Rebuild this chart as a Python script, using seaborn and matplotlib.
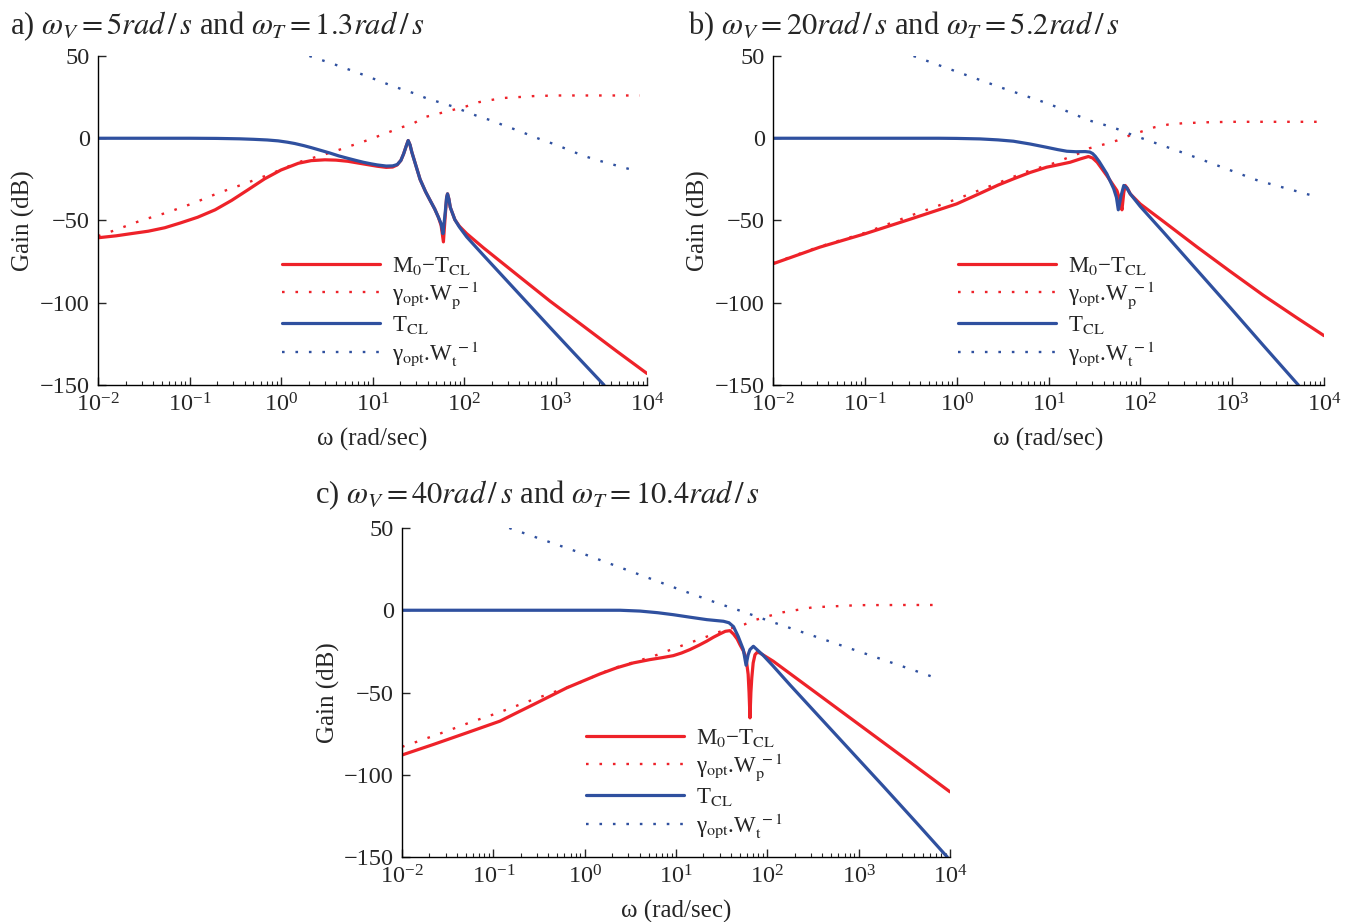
import numpy as np
import matplotlib
matplotlib.use('Agg')
import matplotlib.pyplot as plt
import seaborn as sns
from matplotlib.lines import Line2D
from matplotlib.ticker import LogLocator, NullFormatter, FixedLocator

# ---- data (log10 of omega in rad/s, gain in dB) ----
# panel a
a_m0t_logw = [-2, -1.8, -1.64, -1.45, -1.27, -1.1, -0.91, -0.72, -0.54, -0.36, -0.18, 0.0, 0.19, 0.33, 0.48,
              0.6, 0.73, 0.9, 1.05, 1.15, 1.22, 1.27, 1.31, 1.34, 1.37, 1.39, 1.41, 1.43, 1.46, 1.52, 1.58,
              1.63, 1.68, 1.72, 1.75, 1.775, 1.795, 1.81, 1.82, 1.835, 1.85, 1.9, 1.95, 2.03, 2.21, 2.58,
              2.94, 3.3, 3.67, 4.0]
a_m0t_db = [-60.5, -59.3, -58, -56.5, -54.4, -51.5, -48, -43.5, -37.8, -31.3, -24.7, -19.3, -15.2, -13.6, -13.1,
            -13.3, -14, -15.6, -17, -17.7, -17.5, -16.2, -13.5, -9.5, -4.5, -1.4, -4, -8.5, -14, -25, -32.5,
            -37.8, -43, -48, -53, -63, -47, -36, -33.8, -37, -42, -49.5, -53.5, -58, -66.5, -83,
            -99, -114, -129.5, -143]
a_wp_logw = [-2, -1.82, -1.53, -1.235, -0.96, -0.69, -0.40, -0.11, 0.19, 0.59, 0.74, 0.885, 1.03, 1.16, 1.30,
             1.45, 1.567, 1.85, 2.02, 2.16, 2.30, 2.44, 2.59, 2.75, 3.0, 3.5, 3.92]
a_wp_db = [-59.5, -56, -50, -45, -39.5, -33.4, -27.7, -21.6, -14.6, -7.9, -5, -2.4, 0.6, 3.3, 6.3,
           9.1, 12.8, 16.8, 19.3, 21.9, 23.3, 24.5, 25, 25.6, 26, 26, 26]
a_tcl_logw = [-2, -1.0, -0.7, -0.45, -0.3, -0.15, -0.03, 0.07, 0.15, 0.25, 0.33, 0.43, 0.535, 0.63, 0.73, 0.82,
              0.9, 0.98, 1.05, 1.15, 1.22, 1.27, 1.31, 1.34, 1.37, 1.39, 1.41, 1.43, 1.46, 1.52, 1.58, 1.63,
              1.68, 1.72, 1.75, 1.77, 1.795, 1.81, 1.82, 1.835, 1.85, 1.9, 1.95, 2.03, 2.21, 2.575, 2.94,
              3.2, 3.53]
a_tcl_db = [0, 0, -0.1, -0.35, -0.65, -1.05, -1.6, -2.4, -3.2, -4.5, -5.7, -7.3, -9, -10.7, -12.2, -13.5,
            -14.6, -15.5, -16.2, -16.9, -16.8, -16, -13.5, -9.5, -4.5, -1.4, -4, -8.5, -14, -25, -32.5, -37.8,
            -43, -48, -52, -58, -45, -36, -33.8, -37, -42, -49.5, -54, -60, -71, -93, -115,
            -130.5, -150]
a_wt_logw = [0.31, 0.57, 0.855, 1.02, 1.16, 1.31, 1.45, 1.59, 1.73, 1.88, 2.02, 2.16, 2.30, 2.44, 2.59, 2.73,
             2.87, 3.01, 3.16, 3.30, 3.44, 3.58, 3.73, 3.87]
a_wt_db = [50, 45.2, 39.5, 36, 33, 30, 27.4, 24.3, 21.9, 19.3, 16.2, 13.2, 10.8, 7.7, 4.7, 1.6,
           -1.4, -4, -7.5, -10.5, -13.1, -15.2, -17.6, -19.6]

# panel b
b_m0t_logw = [-2, -1.49, -1.0, -0.495, 0.0, 0.255, 0.45, 0.618, 0.8, 0.98, 1.1, 1.235, 1.35, 1.435, 1.48,
              1.53, 1.635, 1.745, 1.78, 1.80, 1.82, 1.835, 1.86, 1.89, 2.0, 2.25, 2.615, 2.98, 3.34, 3.70, 4.0]
b_m0t_db = [-76.3, -66.2, -58.1, -49, -39.9, -33.5, -28.5, -24.7, -20.8, -17.6, -16.2, -14.6, -12.5, -11.1, -12,
            -14.6, -22.7, -31.8, -38, -43.5, -33, -28.7, -30.5, -33.8, -40, -50.5, -66, -81, -95.5, -109, -120]
b_wp_logw = [-2, -1.5, -1.0, -0.5, 0.0, 0.33, 0.473, 0.75, 1.036, 1.18, 1.32, 1.45, 1.6, 1.745, 1.88, 2.155,
             2.3, 2.46, 2.72, 3.0, 3.5, 3.92]
b_wp_db = [-76, -66, -57.5, -47, -37, -29.8, -26.7, -20.5, -15.6, -12.5, -9.5, -6, -3.8, -1.4, 1.6, 6.7,
           8.3, 9.1, 9.7, 10, 10, 10]
b_tcl_logw = [-2, -0.2, 0.0, 0.255, 0.45, 0.618, 0.8, 0.98, 1.1, 1.2, 1.3, 1.4, 1.45, 1.48, 1.51, 1.55, 1.635,
              1.71, 1.74, 1.76, 1.79, 1.82, 1.85, 1.89, 2.0, 2.25, 2.615, 2.98, 3.34, 3.72]
b_tcl_db = [0, 0, -0.1, -0.4, -1, -1.8, -3.5, -5.5, -6.9, -7.9, -8.2, -8.1, -8.4, -9.3, -11, -14, -21.6,
            -30.7, -36, -43.5, -35, -28.7, -30, -33.8, -41.5, -57, -80, -103, -126, -150]
b_wt_logw = [-0.47, 0.0, 0.5, 1.0, 1.45, 1.6, 1.745, 1.88, 2.5, 3.28, 3.87]
b_wt_db = [50, 40.5, 30.5, 21, 10.7, 8.3, 5.7, 2.7, -9.5, -25.7, -34.8]

# panel c
c_m0t_logw = [-2, -1.657, -1.29, -0.927, -0.75, -0.56, -0.197, 0.168, 0.35, 0.533, 0.715, 0.85, 0.97, 1.06,
              1.153, 1.25, 1.336, 1.41, 1.48, 1.54, 1.59, 1.63, 1.67, 1.70, 1.74, 1.767, 1.79, 1.80, 1.81,
              1.82, 1.83, 1.845, 1.865, 1.89, 1.92, 2.065, 2.5, 3.0, 3.5, 4.0]
c_m0t_db = [-88, -81.6, -74.5, -67.4, -62.5, -57.3, -47.2, -38.7, -35, -32, -30, -28.8, -27.6, -26,
            -23.9, -21.3, -18.8, -16.4, -14.4, -12.8, -12.4, -14.5, -17.5, -20.9, -25, -29, -39, -50, -65.4,
            -50, -41, -32, -27, -25.5, -26, -31, -48.8, -69.3, -89.8, -110.4]
c_wp_logw = [-2, -1.82, -1.53, -1.245, -0.96, -0.68, -0.39, -0.106, 0.3, 0.75, 1.025, 1.32, 1.46, 1.745,
             1.88, 2.03, 2.175, 2.5, 3.0, 3.5, 3.92]
c_wp_db = [-83, -79.6, -73.9, -68, -62.6, -56.7, -50.8, -45.2, -35.5, -28, -22.3, -16.4, -13.4, -8.7,
           -5.7, -3.3, -1.2, 1.8, 3.1, 3.2, 3.2]
c_tcl_logw = [-2, 0.387, 0.606, 0.8, 0.97, 1.15, 1.336, 1.52, 1.58, 1.63, 1.68, 1.737, 1.767, 1.79, 1.81,
              1.847, 1.956, 2.065, 2.25, 2.54, 2.905, 3.27, 3.635, 3.97]
c_tcl_db = [0, 0, -0.5, -1.5, -2.7, -4.2, -5.7, -6.7, -7.6, -10, -15.8, -23.9, -33.4, -27, -23.9,
            -21.9, -27.5, -34, -45.5, -63, -85, -107, -129.3, -150]
c_wt_logw = [-0.826, 0.0, 0.75, 1.025, 1.45, 1.74, 2.03, 2.5, 3.0, 3.5, 3.89]
c_wt_db = [50, 34, 18.6, 12.9, 4.4, -1, -6.7, -15.5, -25, -34.5, -42]

xtick_exp = [-2, -1, 0, 1, 2, 3, 4]
ytick_vals = [-150, -100, -50, 0, 50]

titles = [r'a) $\omega_V = 5\mathit{rad\,/\,s}$ and $\omega_T = 1.3\mathit{rad\,/\,s}$',
          r'b) $\omega_V = 20\mathit{rad\,/\,s}$ and $\omega_T = 5.2\mathit{rad\,/\,s}$',
          r'c) $\omega_V = 40\mathit{rad\,/\,s}$ and $\omega_T = 10.4\mathit{rad\,/\,s}$']
legend_labels = [r'M$_0$−T$_{\mathrm{CL}}$',
                 r'γ$_{\mathrm{opt}}$.W$_{\mathrm{p}}^{\;-1}$',
                 r'T$_{\mathrm{CL}}$',
                 r'γ$_{\mathrm{opt}}$.W$_{\mathrm{t}}^{\;-1}$']

RED = '#ee2229'
BLUE = '#2f509f'
DOT = (0, (1.1, 4.6))

sns.set_style('ticks')
plt.rcParams['font.family'] = ['Liberation Serif', 'DejaVu Serif']
plt.rcParams['mathtext.fontset'] = 'stix'
plt.rcParams['axes.unicode_minus'] = True

fig = plt.figure(figsize=(13.58, 9.22), dpi=100)
W, H = 1358, 922
boxes = [(98, 56, 647, 385), (773, 56, 1324, 385), (402, 528, 950, 857)]
axes = [fig.add_axes([l / W, 1 - b / H, (r - l) / W, (b - t) / H]) for (l, t, r, b) in boxes]

panels = [
    (a_m0t_logw, a_m0t_db, a_wp_logw, a_wp_db, a_tcl_logw, a_tcl_db, a_wt_logw, a_wt_db),
    (b_m0t_logw, b_m0t_db, b_wp_logw, b_wp_db, b_tcl_logw, b_tcl_db, b_wt_logw, b_wt_db),
    (c_m0t_logw, c_m0t_db, c_wp_logw, c_wp_db, c_tcl_logw, c_tcl_db, c_wt_logw, c_wt_db),
]

for ax, p in zip(axes, panels):
    m0x, m0y, wpx, wpy, tx, ty, wtx, wty = p
    sns.lineplot(x=10 ** np.array(wpx), y=wpy, ax=ax, color=RED, lw=1.7, ls=DOT, sort=False, estimator=None)
    sns.lineplot(x=10 ** np.array(wtx), y=wty, ax=ax, color=BLUE, lw=1.7, ls=DOT, sort=False, estimator=None)
    sns.lineplot(x=10 ** np.array(m0x), y=m0y, ax=ax, color=RED, lw=2.3, sort=False, estimator=None)
    sns.lineplot(x=10 ** np.array(tx), y=ty, ax=ax, color=BLUE, lw=2.3, sort=False, estimator=None)

    ax.set_xscale('log')
    ax.set_xlim(1e-2, 1e4)
    ax.set_ylim(-150, 50)
    ax.set_yticks(ytick_vals)
    ax.xaxis.set_major_locator(FixedLocator(10.0 ** np.array(xtick_exp)))
    ax.xaxis.set_minor_locator(LogLocator(base=10, subs=np.arange(2, 10), numticks=100))
    ax.xaxis.set_minor_formatter(NullFormatter())
    ax.tick_params(which='major', direction='in', length=6, width=1, labelsize=17.5, pad=6)
    ax.tick_params(which='minor', direction='in', length=3, width=0.8)
    for s in ['top', 'right']:
        ax.spines[s].set_visible(False)
    for s in ['left', 'bottom']:
        ax.spines[s].set_linewidth(1)
        ax.spines[s].set_color('black')
    ax.set_xlabel('ω (rad/sec)', fontsize=18, labelpad=8)
    ax.set_ylabel('Gain (dB)', fontsize=18, labelpad=3)

    handles = [Line2D([], [], color=RED, lw=2.3),
               Line2D([], [], color=RED, lw=1.7, ls=DOT),
               Line2D([], [], color=BLUE, lw=2.3),
               Line2D([], [], color=BLUE, lw=1.7, ls=DOT)]
    ax.legend(handles, legend_labels, loc='upper left', bbox_to_anchor=(0.335, 0.395), frameon=False,
              fontsize=16.5, handlelength=4.3, handletextpad=0.5, labelspacing=0.12,
              borderpad=0, borderaxespad=0)

title_pos = [(10, 26), (688, 26), (315, 495)]
for (tx_, ty_), t in zip(title_pos, titles):
    fig.text(tx_ / W, 1 - ty_ / H, t, fontsize=22, ha='left', va='center')

fig.savefig('out.png', dpi=100)
